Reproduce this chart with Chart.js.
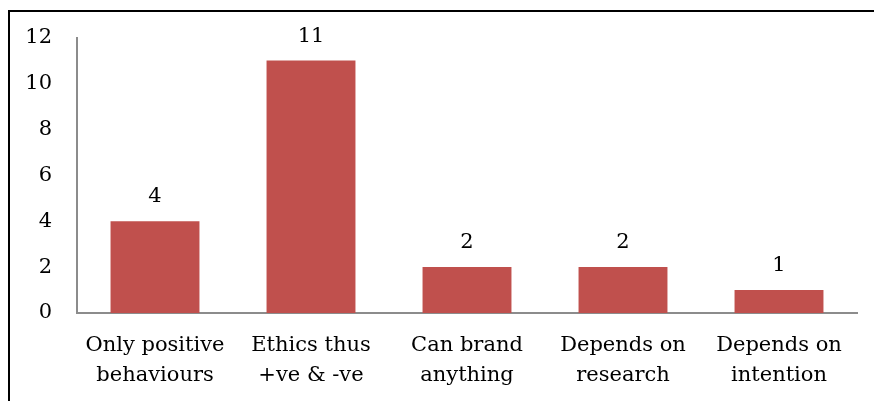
<!DOCTYPE html>
<html>
<head>
<meta charset="utf-8">
<script src="https://cdn.jsdelivr.net/npm/chart.js@4/dist/chart.umd.min.js"></script>
<style>
  html, body { margin: 0; padding: 0; background: #fff; overflow: hidden; }
  #frame { position: absolute; left: 8px; top: 10px; width: 900px; height: 420px; border: 2px solid #000; }
  #wrap { position: absolute; left: 0; top: 0; width: 874px; height: 401px; }
</style>
</head>
<body>
<div id="frame"></div>
<div id="wrap"><canvas id="chart"></canvas></div>
<script>
var categories = [
    ['Only positive', 'behaviours'],
    ['Ethics thus', '+ve & -ve'],
    ['Can brand', 'anything'],
    ['Depends on', 'research'],
    ['Depends on', 'intention']
];
var counts = [4, 11, 2, 2, 1];
var yTicks = [0, 2, 4, 6, 8, 10, 12];

const FONT = 'DejaVu Serif';

// value labels above each bar
const barValues = {
    id: 'barValues',
    afterDatasetsDraw(chart) {
        const ctx = chart.ctx;
        const meta = chart.getDatasetMeta(0);
        ctx.save();
        ctx.font = '21px "' + FONT + '"';
        ctx.fillStyle = '#000';
        ctx.textAlign = 'center';
        ctx.textBaseline = 'alphabetic';
        meta.data.forEach((bar, i) => {
            ctx.fillText(counts[i], bar.x, bar.y - 19);
        });
        ctx.restore();
    }
};

const ctx = document.getElementById('chart').getContext('2d');
new Chart(ctx, {
    type: 'bar',
    data: {
        labels: categories,
        datasets: [{
            data: counts,
            backgroundColor: '#C0504D',
            borderWidth: 0,
            barPercentage: 0.57,
            categoryPercentage: 1
        }]
    },
    options: {
        responsive: true, maintainAspectRatio: false, animation: false,
        layout: { padding: { top: 37, right: 17, left: 0, bottom: 0 } },
        plugins: { legend: { display: false }, tooltip: { enabled: false } },
        scales: {
            x: {
                grid: { display: false, drawTicks: false },
                border: { display: true, color: '#8c8c8c', width: 2 },
                ticks: {
                    color: '#000', font: { family: FONT, size: 21, lineHeight: 1.43 },
                    padding: 18, maxRotation: 0, autoSkip: false
                },
                afterFit(scale) { scale.height = 88; }
            },
            y: {
                min: 0, max: 12,
                grid: { display: false, drawTicks: false },
                border: { display: true, color: '#8c8c8c', width: 2 },
                afterBuildTicks(scale) { scale.ticks = yTicks.map(v => ({ value: v })); },
                ticks: {
                    color: '#000', font: { family: FONT, size: 21 }, padding: 25
                },
                afterFit(scale) { scale.width = 77; }
            }
        }
    },
    plugins: [barValues]
});
</script>
</body>
</html>
